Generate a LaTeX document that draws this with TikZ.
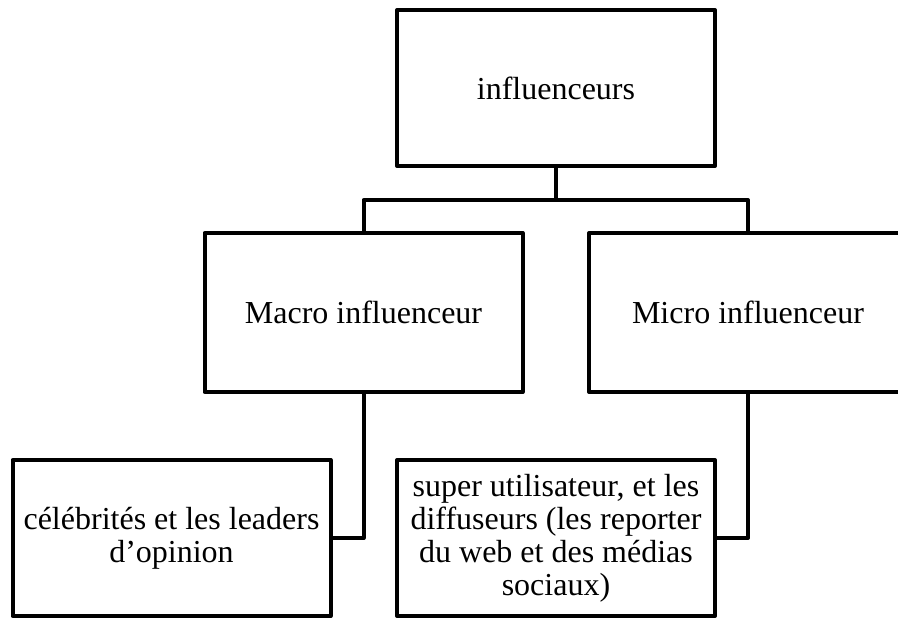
\documentclass[tikz,border=0pt]{standalone}
\usepackage{fontspec}
\setmainfont{Liberation Serif}
\usepackage{tikz}

\begin{document}
\begin{tikzpicture}[x=1pt,y=-1pt,
    box/.style={draw, line width=4pt, line join=round, minimum width=318pt,
        minimum height=156pt, align=center, inner sep=1pt},
    wire/.style={line width=4pt, line join=round},
    font=\fontsize{32}{33}\selectfont,
]
    \useasboundingbox (0,0) rectangle (898,619);
    \clip (0,0) rectangle (898,619); % micro box runs off the page on the right
    \node[box] (top) at (556,88) {influenceurs};
    \node[box, minimum height=159pt] (macro) at (363.5,312.5) {Macro influenceur};
    \node[box, minimum height=159pt] (micro) at (748,312.5) {Micro influenceur};
    \node[box] (celeb) at (171.5,538) {célébrités et les leaders\\ d’opinion};
    \node[box] (superu) at (556,538) {super utilisateur, et les\\ diffuseurs (les reporter\\ du web et des médias\\ sociaux)};
    \coordinate (bus) at (556,200);
    \draw[wire] (top.south) -- (bus); %the split under the top box
    \draw[wire] (macro.north) |- (bus) -| (micro.north);
    \draw[wire] (macro.south) |- (celeb.east);
    \draw[wire] (micro.south) |- (superu.east);
\end{tikzpicture}
\end{document}
